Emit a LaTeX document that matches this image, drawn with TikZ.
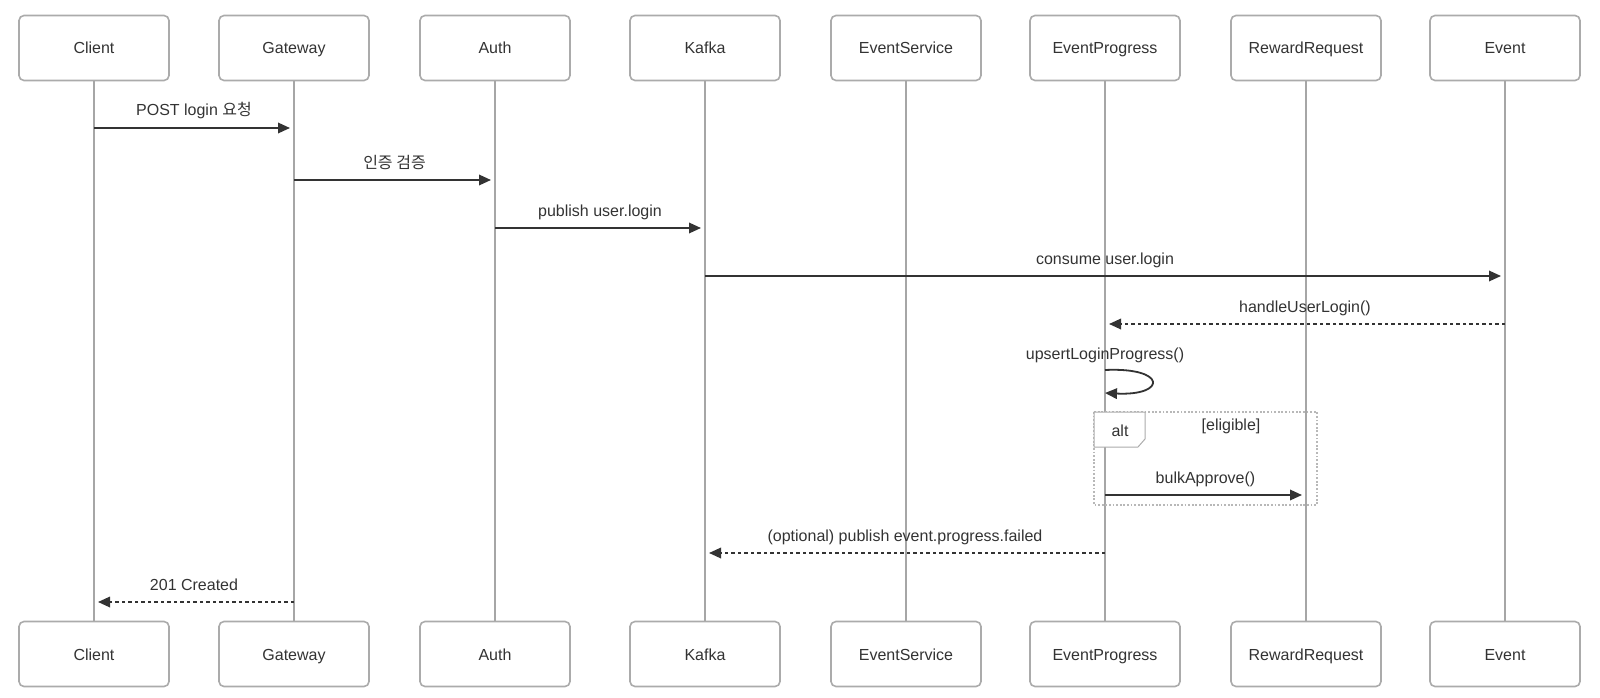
\documentclass[tikz,border=0pt]{standalone}
\usepackage{fontspec}
\setmainfont{Liberation Sans}
\newfontfamily\krfont{Noto Sans CJK KR}
\usetikzlibrary{arrows.meta, calc}
\definecolor{boxgray}{HTML}{ABABAB}
\definecolor{linegray}{HTML}{A6A6A6}
\definecolor{ink}{HTML}{333333}

\begin{document}
\begin{tikzpicture}[x=1pt, y=-1pt,
	actor/.style={draw=boxgray, line width=1.6pt, rounded corners=5pt, fill=white, minimum width=150pt, minimum height=65pt, text height=14pt, text depth=2pt, text=ink, font=\fontsize{16}{19}\selectfont},
	lifeline/.style={draw=linegray, line width=1.7pt},
	msg/.style={draw=ink, line width=1.8pt, -{Triangle[length=12pt, width=10.5pt]}, shorten >=4pt},
	reply/.style={msg, dash pattern=on 3.5pt off 3pt},
	lbl/.style={anchor=base, yshift=12pt, text=ink, font=\fontsize{16}{19}\selectfont},
	altframe/.style={draw=boxgray!85, line width=1.4pt, dash pattern=on 1.8pt off 1.8pt},
	alttab/.style={draw=boxgray, line width=1pt, fill=white},
]
	\useasboundingbox (0,0) rectangle (1600,698);
	% participants, top and bottom
	\foreach \n/\t/\x in {client/Client/94, gateway/Gateway/294, auth/Auth/495, kafka/Kafka/705, evsvc/EventService/906, evprog/EventProgress/1105, reward/RewardRequest/1306, event/Event/1505} {
		\node[actor] (\n-top) at (\x, 48) {\t};
		\node[actor] (\n-bot) at (\x, 654) {\t};
		\draw[lifeline] (\n-top) -- (\n-bot);
	}

	\draw[msg] (client-top |- 0,128) -- (gateway-top |- 0,128) node[lbl, midway] (m-post) {POST login {\krfont 요청}};
	\draw[msg] (gateway-top |- 0,180) -- (auth-top |- 0,180) node[lbl, midway] (m-verify) {\krfont 인증 검증};
	\draw[msg] (auth-top |- 0,228) -- (kafka-top |- 0,228) node[lbl, midway] (m-pub) {publish user.login};
	\draw[msg] (kafka-top |- 0,276) -- (event-top |- 0,276) node[lbl, midway] (m-consume) {consume user.login};
	\draw[reply] (event-top |- 0,324) -- (evprog-top |- 0,324) node[lbl, midway] (m-handle) {handleUserLogin()};

	% self call
	\node[lbl] (m-upsert) at (evprog-top |- 0,371) {upsertLoginProgress()};
	\draw[msg, shorten >=0pt] (evprog-top |- 0,370) .. controls +(62,-3) and +(62,3) .. (evprog-top |- 0,393);

	% alt block
	\draw[altframe] (1094,412) rectangle (1317,505);
	\draw[alttab] (1094,412) -- (1145,412) -- (1145,439) -- (1138,447) -- (1094,447) -- cycle;
	\node[text=ink, font=\fontsize{16}{19}\selectfont] (alt) at (1120,431) {alt};
	\node[text=ink, font=\fontsize{16}{19}\selectfont] (cond) at (1231,426) {[eligible]};
	\draw[msg] (evprog-top |- 0,495) -- (reward-top |- 0,495) node[lbl, midway] (m-bulk) {bulkApprove()};

	\draw[reply] (evprog-top |- 0,553) -- (kafka-top |- 0,553) node[lbl, midway] (m-fail) {(optional) publish event.progress.failed};
	\draw[reply] (gateway-top |- 0,602) -- (client-top |- 0,602) node[lbl, midway] (m-created) {201 Created};
\end{tikzpicture}
\end{document}
